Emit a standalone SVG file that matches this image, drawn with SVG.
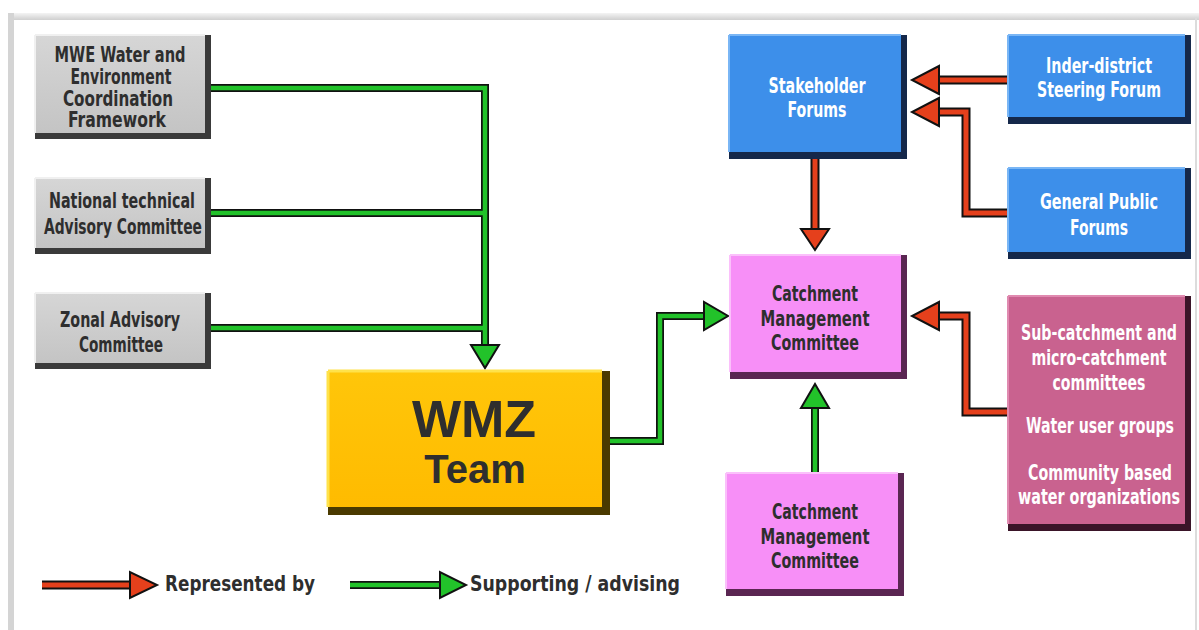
<svg xmlns="http://www.w3.org/2000/svg" width="1199" height="630" viewBox="0 0 1199 630">
<defs>
<linearGradient id="gGray" x1="0" y1="0" x2="0" y2="1"><stop offset="0" stop-color="#d6d6d6"/><stop offset="1" stop-color="#c4c4c4"/></linearGradient>
<linearGradient id="gYel" x1="0" y1="0" x2="0" y2="1"><stop offset="0" stop-color="#ffc60a"/><stop offset="1" stop-color="#ffbb00"/></linearGradient>
<linearGradient id="gFrame" x1="0" y1="0" x2="0" y2="1"><stop offset="0" stop-color="#f4f4f4"/><stop offset="1" stop-color="#cfcfcf"/></linearGradient>
</defs>
<style>
.t{font-family:"DejaVu Sans Condensed","Liberation Sans Narrow","Roboto Condensed",sans-serif;font-weight:bold;font-size:21px;text-anchor:middle;dominant-baseline:central}
.dk{fill:#2e2e2e}
.wh{fill:#ffffff}
.big{font-family:"Liberation Sans",Arial,sans-serif;font-weight:bold;text-anchor:middle;dominant-baseline:central;fill:#2e2e2e}
.ol{fill:none;stroke:#111;stroke-width:8;stroke-linejoin:miter}
.gr{fill:none;stroke:#22c22a;stroke-width:4.5;stroke-linejoin:miter}
.rd{fill:none;stroke:#e5401c;stroke-width:5;stroke-linejoin:miter}
.olr{fill:none;stroke:#111;stroke-width:9;stroke-linejoin:miter}
.hg{fill:#22c22a;stroke:#111;stroke-width:2}
.hr{fill:#e5401c;stroke:#111;stroke-width:2}
</style>
<rect x="0" y="0" width="1199" height="630" fill="#ffffff"/>
<rect x="8" y="13" width="1191" height="7" fill="url(#gFrame)"/>
<rect x="8" y="13" width="6" height="617" fill="#d4d4d4"/>
<line x1="1196" y1="17" x2="1196" y2="630" stroke="#dcdcdc" stroke-width="2"/>

<g id="connectors">
<path class="ol" d="M210 88 H485 V356 M210 213 H485 M210 328 H485"/>
<path class="gr" d="M210 88 H485 V356 M210 213 H485 M210 328 H485"/>
<polygon class="hg" points="471,345 499,345 485,368"/>
<path class="ol" d="M610 441 H660 V316 H712"/>
<path class="gr" d="M610 441 H660 V316 H712"/>
<polygon class="hg" points="704,302 704,330 728,316"/>
<path class="ol" d="M815 473 V398"/>
<path class="gr" d="M815 473 V398"/>
<polygon class="hg" points="801,408 829,408 815,384"/>
<path class="olr" d="M815 158 V238"/>
<path class="rd" d="M815 158 V238"/>
<polygon class="hr" points="801,229 829,229 815,250"/>
<path class="olr" d="M1008 80 H930"/>
<path class="rd" d="M1008 80 H930"/>
<polygon class="hr" points="939,66 939,94 912,80"/>
<path class="olr" d="M1008 213 H966 V112 H930"/>
<path class="rd" d="M1008 213 H966 V112 H930"/>
<polygon class="hr" points="939,98 939,126 912,112"/>
<path class="olr" d="M1008 412 H966 V316 H930"/>
<path class="rd" d="M1008 412 H966 V316 H930"/>
<polygon class="hr" points="939,302 939,330 912,316"/>
</g>

<g id="n-mwe">
<rect x="35" y="35" width="176" height="104" fill="#3a3a3a"/>
<rect x="35" y="35" width="170" height="98" fill="url(#gGray)"/>
<path d="M35 35 H205 M35 35 V133" stroke="#f0f0f0" stroke-width="2" fill="none"/>
<text class="t dk" x="120" y="55" font-size="20" textLength="131" lengthAdjust="spacingAndGlyphs">MWE Water and</text>
<text class="t dk" x="121" y="77" font-size="20" textLength="101" lengthAdjust="spacingAndGlyphs">Environment</text>
<text class="t dk" x="118" y="99" font-size="20" textLength="110" lengthAdjust="spacingAndGlyphs">Coordination</text>
<text class="t dk" x="117" y="120" font-size="20" textLength="98" lengthAdjust="spacingAndGlyphs">Framework</text>
</g>
<g id="n-national">
<rect x="35" y="178" width="176" height="76" fill="#3a3a3a"/>
<rect x="35" y="178" width="170" height="70" fill="url(#gGray)"/>
<path d="M35 178 H205 M35 178 V248" stroke="#f0f0f0" stroke-width="2" fill="none"/>
<text class="t dk" x="122" y="201" textLength="146" lengthAdjust="spacingAndGlyphs">National technical</text>
<text class="t dk" x="123" y="227" textLength="158" lengthAdjust="spacingAndGlyphs">Advisory Committee</text>
</g>
<g id="n-zonal">
<rect x="35" y="293" width="176" height="76" fill="#3a3a3a"/>
<rect x="35" y="293" width="170" height="70" fill="url(#gGray)"/>
<path d="M35 293 H205 M35 293 V363" stroke="#f0f0f0" stroke-width="2" fill="none"/>
<text class="t dk" x="120" y="320" textLength="120" lengthAdjust="spacingAndGlyphs">Zonal Advisory</text>
<text class="t dk" x="121" y="345" textLength="84" lengthAdjust="spacingAndGlyphs">Committee</text>
</g>
<g id="n-wmz">
<rect x="328" y="371" width="282" height="144" fill="#4a3a00"/>
<rect x="328" y="371" width="274" height="136" fill="url(#gYel)"/>
<path d="M328 371 H602 M328 371 V507" stroke="#ffe24a" stroke-width="3" fill="none"/>
<text class="big" x="474" y="419" font-size="52">WMZ</text>
<text class="big" x="475" y="469" font-size="40">Team</text>
</g>
<g id="n-stakeholder">
<rect x="729" y="35" width="178" height="124" fill="#15284a"/>
<rect x="729" y="35" width="172" height="117" fill="#3d8fea"/>
<path d="M729 35 H901 M729 35 V152" stroke="#7ab6f5" stroke-width="2" fill="none"/>
<text class="t wh" x="817" y="86" textLength="97" lengthAdjust="spacingAndGlyphs">Stakeholder</text>
<text class="t wh" x="817" y="110" textLength="59" lengthAdjust="spacingAndGlyphs">Forums</text>
</g>
<g id="n-inder">
<rect x="1008" y="35" width="183" height="89" fill="#15284a"/>
<rect x="1008" y="35" width="177" height="82" fill="#3d8fea"/>
<path d="M1008 35 H1185 M1008 35 V117" stroke="#7ab6f5" stroke-width="2" fill="none"/>
<text class="t wh" x="1099" y="66" textLength="106" lengthAdjust="spacingAndGlyphs">Inder-district</text>
<text class="t wh" x="1099" y="90" textLength="124" lengthAdjust="spacingAndGlyphs">Steering Forum</text>
</g>
<g id="n-general">
<rect x="1008" y="168" width="183" height="91" fill="#15284a"/>
<rect x="1008" y="168" width="177" height="84" fill="#3d8fea"/>
<path d="M1008 168 H1185 M1008 168 V252" stroke="#7ab6f5" stroke-width="2" fill="none"/>
<text class="t wh" x="1099" y="202" textLength="118" lengthAdjust="spacingAndGlyphs">General Public</text>
<text class="t wh" x="1099" y="228" textLength="58" lengthAdjust="spacingAndGlyphs">Forums</text>
</g>
<g id="n-cmc-top">
<rect x="730" y="255" width="177" height="124" fill="#5a2652"/>
<rect x="730" y="255" width="171" height="117" fill="#f78ff7"/>
<path d="M730 255 H901 M730 255 V372" stroke="#fbc0fb" stroke-width="2" fill="none"/>
<text class="t dk" x="815" y="294" textLength="86" lengthAdjust="spacingAndGlyphs">Catchment</text>
<text class="t dk" x="815" y="319" textLength="109" lengthAdjust="spacingAndGlyphs">Management</text>
<text class="t dk" x="815" y="343" textLength="88" lengthAdjust="spacingAndGlyphs">Committee</text>
</g>
<g id="n-cmc-bottom">
<rect x="726" y="473" width="178" height="123" fill="#5a2652"/>
<rect x="726" y="473" width="172" height="116" fill="#f78ff7"/>
<path d="M726 473 H898 M726 473 V589" stroke="#fbc0fb" stroke-width="2" fill="none"/>
<text class="t dk" x="815" y="512" textLength="86" lengthAdjust="spacingAndGlyphs">Catchment</text>
<text class="t dk" x="815" y="537" textLength="109" lengthAdjust="spacingAndGlyphs">Management</text>
<text class="t dk" x="815" y="561" textLength="88" lengthAdjust="spacingAndGlyphs">Committee</text>
</g>
<g id="n-sub">
<rect x="1008" y="296" width="183" height="235" fill="#3a1428"/>
<rect x="1008" y="296" width="177" height="228" fill="#c9628f"/>
<path d="M1008 296 H1185 M1008 296 V524" stroke="#e08ab0" stroke-width="2" fill="none"/>
<text class="t wh" x="1099" y="333" textLength="156" lengthAdjust="spacingAndGlyphs">Sub-catchment and</text>
<text class="t wh" x="1099" y="358" textLength="135" lengthAdjust="spacingAndGlyphs">micro-catchment</text>
<text class="t wh" x="1099" y="383" textLength="93" lengthAdjust="spacingAndGlyphs">committees</text>
<text class="t wh" x="1100" y="426" textLength="148" lengthAdjust="spacingAndGlyphs">Water user groups</text>
<text class="t wh" x="1100" y="473" textLength="144" lengthAdjust="spacingAndGlyphs">Community based</text>
<text class="t wh" x="1099" y="497" textLength="162" lengthAdjust="spacingAndGlyphs">water organizations</text>
</g>

<g id="legend">
<path class="olr" d="M42 585 H136"/>
<path class="rd" d="M42 585 H136"/>
<polygon class="hr" points="130,572 130,598 157,585"/>
<text class="t dk" x="165" y="584" font-size="25" style="text-anchor:start" textLength="150" lengthAdjust="spacingAndGlyphs">Represented by</text>
<path class="ol" d="M350 585 H446"/>
<path class="gr" d="M350 585 H446"/>
<polygon class="hg" points="440,572 440,598 466,585"/>
<text class="t dk" x="470" y="584" font-size="25" style="text-anchor:start" textLength="210" lengthAdjust="spacingAndGlyphs">Supporting / advising</text>
</g>
</svg>
